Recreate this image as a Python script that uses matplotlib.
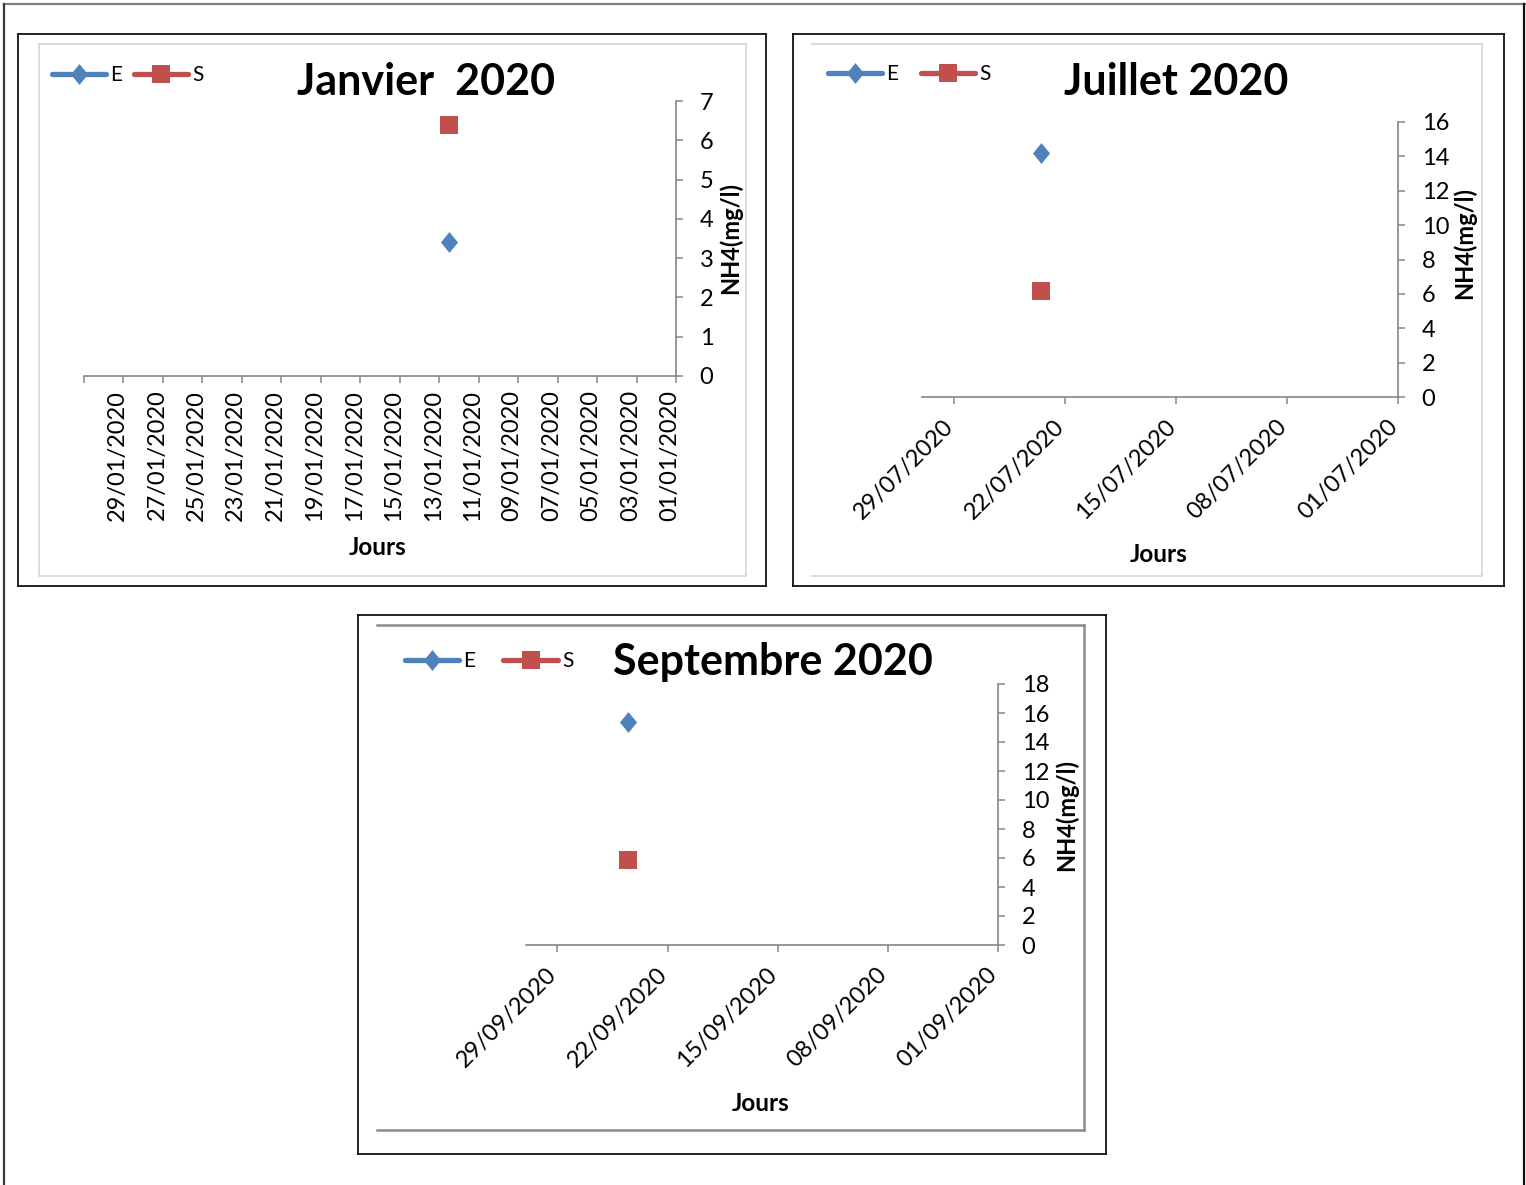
import numpy as np
import pandas as pd
import matplotlib
matplotlib.use('Agg')
import matplotlib.pyplot as plt
import matplotlib.dates as mdates
import matplotlib.transforms as mtransforms
from matplotlib.lines import Line2D

plt.rcParams['font.family'] = ['Lato', 'DejaVu Sans']

W, H = 1526, 1185

# NH4 (mg/l) à l'entrée (E) et à la sortie (S)
jan_dates = ['2020-01-12']
jan_E = [3.41]
jan_S = [6.39]

jul_dates = ['2020-07-23']
jul_E = [14.2]
jul_S = [6.17]

sep_dates = ['2020-09-24']
sep_E = [15.38]
sep_S = [5.86]

titles = ['Janvier  2020', 'Juillet 2020', 'Septembre 2020']

BLUE = '#4F81BD'
RED = '#C0504D'
AXIS_GREY = '#868686'

# diamond a bit taller than wide
DIAMOND = [(0, 1), (0.82, 0), (0, -1), (-0.82, 0), (0, 1)]


def fx(px):
    return px / W


def fy(py):
    return 1 - py / H


def hline(fig, x0, x1, y, color, lw):
    fig.add_artist(Line2D([fx(x0), fx(x1)], [fy(y), fy(y)], color=color, lw=lw))


def vline(fig, x, y0, y1, color, lw):
    fig.add_artist(Line2D([fx(x), fx(x)], [fy(y0), fy(y1)], color=color, lw=lw))


def box(fig, x0, y0, x1, y1, color, lw, left=True):
    hline(fig, x0, x1, y0, color, lw)
    hline(fig, x0, x1, y1, color, lw)
    vline(fig, x1, y0, y1, color, lw)
    if left:
        vline(fig, x0, y0, y1, color, lw)


def day_centre(dates):
    return mdates.date2num(pd.to_datetime(dates)) + 0.5


def draw_panel(fig, p):
    l, t, r, b = p['axbox']
    ax = fig.add_axes([fx(l), fy(b), fx(r - l), (b - t) / H])
    x = day_centre(p['dates'])
    ax.plot(x, p['E'], color=BLUE, lw=3.8, marker=DIAMOND, ms=15, mew=0,
            solid_capstyle='round', label='E', clip_on=False)
    ax.plot(x, p['S'], color=RED, lw=3.8, marker='s', ms=13.5, mew=0,
            solid_capstyle='round', label='S', clip_on=False)

    start, end = mdates.date2num(pd.to_datetime(p['xlim']))
    ax.set_xlim(end, start)
    ax.set_ylim(0, p['ymax'])
    ax.set_yticks(np.arange(0, p['ymax'] + 1, p['ystep']))

    ticks = pd.to_datetime(p['ticks'])
    ax.set_xticks(mdates.date2num(ticks))
    labels = [d.strftime('%d/%m/%Y') for d in ticks]
    if p['skip_last']:
        labels[-1] = ''
    ax.set_xticklabels(labels)

    for side in ['left', 'top']:
        ax.spines[side].set_visible(False)
    for side in ['bottom', 'right']:
        ax.spines[side].set_color(AXIS_GREY)
        ax.spines[side].set_linewidth(1.2)
    ax.yaxis.tick_right()
    ax.tick_params(axis='y', direction='out', length=5, width=1.1, color=AXIS_GREY,
                   pad=12, labelsize=17)
    ax.tick_params(axis='x', direction='out', length=5, width=1.1, color=AXIS_GREY,
                   pad=p['xpad'], labelsize=17)

    if p['rot'] == 90:
        shift = mtransforms.ScaledTranslation(-6 / 100, 3 / 100, fig.dpi_scale_trans)
        for lab in ax.get_xticklabels():
            lab.set_rotation(90)
            lab.set_ha('center')
            lab.set_transform(lab.get_transform() + shift)
    else:
        shift = mtransforms.ScaledTranslation(-4 / 100, 0, fig.dpi_scale_trans)
        for lab in ax.get_xticklabels():
            lab.set_rotation(45)
            lab.set_rotation_mode('anchor')
            lab.set_ha('right')
            lab.set_va('center')
            lab.set_transform(lab.get_transform() + shift)

    ax.set_facecolor('none')

    lx, ly = p['legend']
    ax.legend(loc='center left', bbox_to_anchor=(fx(lx), fy(ly)),
              bbox_transform=fig.transFigure, ncol=2, frameon=False, fontsize=15,
              handlelength=2.6, handletextpad=0.2, columnspacing=p['colsp'],
              borderpad=0, borderaxespad=0)

    tx, ty = p['title_pos']
    fig.text(fx(tx), fy(ty), p['title'], ha='center', va='baseline',
             fontsize=31, fontweight='bold')
    jx, jy = p['jours_pos']
    fig.text(fx(jx), fy(jy), 'Jours', ha='center', va='baseline',
             fontsize=17.5, fontweight='bold')
    nx_, ny_ = p['ylab_pos']
    fig.text(fx(nx_), fy(ny_), 'NH4(mg/l)', ha='center', va='center', rotation=90,
             fontsize=17, fontweight='bold')
    return ax


fig = plt.figure(figsize=(W / 100, H / 100), dpi=100)

# page frame
hline(fig, 4, W, 4, '#7f7f7f', 1.6)
vline(fig, 4, 4, H, '#3a3a3a', 1.6)
vline(fig, 1524, 4, H, '#111111', 1.6)

# chart frames
box(fig, 18, 34, 766, 586, '#111111', 1.3)
box(fig, 39, 44, 746, 576, '#d9d9d9', 1.3)
box(fig, 793, 34, 1504, 586, '#111111', 1.3)
box(fig, 812, 44, 1482, 576, '#d9d9d9', 1.3, left=False)
box(fig, 358, 615, 1106, 1154, '#111111', 1.3)
box(fig, 377, 625, 1084, 1130, '#8c8c8c', 1.8, left=False)

panels = [
    dict(title=titles[0], dates=jan_dates, E=jan_E, S=jan_S,
         xlim=['2020-01-01', '2020-01-31'],
         ticks=pd.date_range('2020-01-01', '2020-01-31', freq='2D'), skip_last=True,
         ymax=7, ystep=1, rot=90, xpad=7,
         axbox=(84, 101, 676, 376), legend=(52, 75), colsp=0.55,
         title_pos=(426, 95), jours_pos=(378, 555), ylab_pos=(730, 238)),
    dict(title=titles[1], dates=jul_dates, E=jul_E, S=jul_S,
         xlim=['2020-07-01', '2020-07-31'],
         ticks=pd.date_range('2020-07-01', '2020-07-29', freq='7D'), skip_last=False,
         ymax=16, ystep=2, rot=45, xpad=14,
         axbox=(922, 122, 1398, 397), legend=(828, 74), colsp=1.1,
         title_pos=(1176, 95), jours_pos=(1159, 562), ylab_pos=(1464, 243)),
    dict(title=titles[2], dates=sep_dates, E=sep_E, S=sep_S,
         xlim=['2020-09-01', '2020-10-01'],
         ticks=pd.date_range('2020-09-01', '2020-09-29', freq='7D'), skip_last=False,
         ymax=18, ystep=2, rot=45, xpad=14,
         axbox=(526, 684, 998, 945), legend=(405, 661), colsp=1.35,
         title_pos=(773, 675), jours_pos=(761, 1111), ylab_pos=(1066, 815)),
]

for p in panels:
    draw_panel(fig, p)

fig.savefig('out.png', dpi=100)
